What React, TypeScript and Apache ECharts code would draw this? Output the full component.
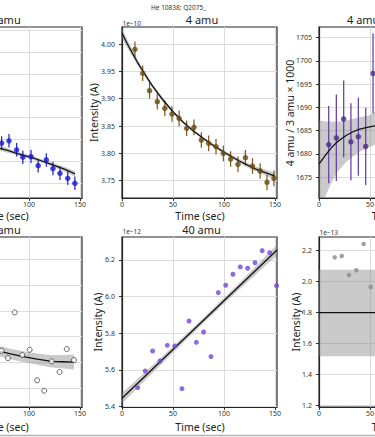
import React, { useEffect, useRef } from 'react';
import * as echarts from 'echarts';

const FONT = '"Noto Sans", "DejaVu Sans", sans-serif';
const XTICKS = [0, 50, 100, 150];
const XLABELS_LEFT = [100, 150];
const XLABELS_MID = [0, 50, 100, 150];
const XLABELS_RIGHT = [0, 50];

// Panel A (top-left, 3 amu) – only the visible part
const tA = [73.2, 80.4, 87.9, 94.0, 102.0, 109.0, 117.0, 123.5, 130.4, 138.0, 145.0];
const vA = [2.3966, 2.3987, 2.3904, 2.3837, 2.3842, 2.3759, 2.3812, 2.3732, 2.3689, 2.3643, 2.3597];
const eA = [0.0062, 0.0062, 0.0062, 0.0062, 0.0062, 0.0062, 0.0062, 0.0062, 0.0062, 0.0062, 0.0062];
const fitAx = [66.7, 71.6, 80, 86.3, 95, 103.9, 112, 120.6, 128, 135.3, 140, 145.1];
const fitAy = [2.3932, 2.3918, 2.3896, 2.3876, 2.3853, 2.383, 2.3804, 2.3775, 2.375, 2.3724, 2.3705, 2.3683];
const bandAh = [0.0025, 0.0022, 0.002, 0.0018, 0.0017, 0.0016, 0.0017, 0.0018, 0.002, 0.0022, 0.0024, 0.0026];
const yTicksA = [2.36, 2.38, 2.4, 2.42, 2.44, 2.46, 2.48, 2.5];

// Panel B (top-center, 4 amu), 1e-10 A
const tB = [12.7, 20.3, 27, 34.6, 42, 49, 56, 63.4, 70.6, 77.8, 85, 92.2, 99.4, 106.5, 113.7, 121, 128, 135.5, 142.2, 149];
const vB = [3.9903, 3.9464, 3.9146, 3.8945, 3.8823, 3.8719, 3.864, 3.8458, 3.8476, 3.8244, 3.8183, 3.8121, 3.8, 3.7896, 3.7799, 3.792, 3.7768, 3.7677, 3.747, 3.7543];
const eB = [0.0143, 0.0143, 0.0143, 0.0143, 0.0143, 0.0143, 0.0143, 0.0143, 0.0143, 0.0143, 0.0143, 0.0143, 0.0143, 0.0143, 0.0143, 0.0143, 0.0143, 0.0143, 0.0143, 0.0143];
const fitBx = [0, 5, 10, 15, 20, 25, 30, 40, 50, 60, 70, 80, 90, 100, 115, 130, 150];
const fitBy = [4.02, 4.001, 3.984, 3.967, 3.952, 3.937, 3.923, 3.898, 3.876, 3.857, 3.841, 3.827, 3.814, 3.802, 3.786, 3.772, 3.7585];
const bandBh = [0.009, 0.0078, 0.0066, 0.0055, 0.0046, 0.004, 0.0035, 0.003, 0.0027, 0.0025, 0.0025, 0.0025, 0.0027, 0.003, 0.0036, 0.0044, 0.006];
const yTicksB = [3.75, 3.8, 3.85, 3.9, 3.95, 4.0];

// Panel C (top-right, 4 amu / 3 amu x 1000)
const tC = [9.5, 17, 24.2, 31.3, 38.6, 45.8, 53];
const vC = [1682.0, 1683.45, 1687.5, 1682.6, 1683.7, 1681.6, 1697.3];
const eC = [8.3, 9.3, 8.3, 8.3, 8.4, 8.3, 8.6];
const fitCx = [0, 3, 6, 9.5, 13, 17, 21, 26.9, 33, 38.3, 44, 49.7, 54.6, 58];
const fitCy = [1677.8, 1678.7, 1679.6, 1680.6, 1681.5, 1682.4, 1683.1, 1684.0, 1684.7, 1685.2, 1685.55, 1685.8, 1686.0, 1686.1];
const bandCx = [0, 5.5, 9.5, 17, 26.9, 33, 38.3, 49.7, 54.6, 58];
const bandClo = [1666, 1670.5, 1672.5, 1675.8, 1678.3, 1679.4, 1680.3, 1681.5, 1681.9, 1682.2];
const bandChi = [1687.2, 1687.0, 1686.9, 1686.9, 1687.2, 1687.5, 1687.8, 1688.3, 1689.0, 1689.4];
const yTicksC = [1675, 1680, 1685, 1690, 1695, 1700, 1705];

// Panel D (bottom-left, open circles)
const tD = [73.2, 79.4, 86, 93.4, 100.7, 108, 115, 122.3, 130, 137, 144.1];
const vD = [1.29, 1.2335, 1.589, 1.257, 1.298, 1.06, 0.979, 1.208, 1.1245, 1.3035, 1.218];
const fitDx = [66.7, 71.6, 82, 93.1, 108, 122.3, 133, 144.1];
const fitDy = [1.2957, 1.2856, 1.2655, 1.2467, 1.2255, 1.2078, 1.2045, 1.2023];
const bandDh = [0.04, 0.04, 0.041, 0.042, 0.044, 0.047, 0.052, 0.058];
const yTicksD = [1.0, 1.2, 1.4, 1.6, 1.8, 2.0];

// Panel E (bottom-center, 40 amu), 1e-12 A
const tE = [15.4, 22.8, 30, 37.3, 44.4, 51.7, 58.8, 65.7, 72.9, 80, 87.3, 94.4, 101.7, 108.8, 116, 123.2, 130.4, 137.5, 144.8, 151.6];
const vE = [5.5036, 5.5945, 5.7036, 5.649, 5.7345, 5.731, 5.498, 5.867, 5.751, 5.807, 5.673, 6.022, 6.062, 6.122, 6.162, 6.155, 6.185, 6.251, 6.24, 6.06];
const fitEx = [0, 152];
const fitEy = [5.4455, 6.2545];
const bandEx = [0, 40, 76, 115, 152];
const bandElo = [5.417, 5.64, 5.836, 6.039, 6.226];
const bandEhi = [5.474, 5.676, 5.864, 6.075, 6.283];
const yTicksE = [5.4, 5.6, 5.8, 6.0, 6.2];

// Panel F (bottom-right), 1e-13 A
const tF = [15.4, 22.3, 29.4, 36.6, 43.8, 50.7];
const vF = [2.157, 2.166, 2.043, 2.074, 2.243, 1.966];
const meanFx = [0, 152];
const meanFy = [1.8, 1.8];
const bandFlo = [1.519, 1.519];
const bandFhi = [2.077, 2.077];
const yTicksF = [1.2, 1.4, 1.6, 1.8, 2.0, 2.2];

const BAND = 'rgba(128,128,128,0.42)';

function errSeries(i: number, ts: number[], vs: number[], es: number[], color: string, w: number) {
  return {
    type: 'custom',
    xAxisIndex: i,
    yAxisIndex: i,
    clip: true,
    silent: true,
    z: 3,
    encode: { x: 0, y: 1 },
    data: ts.map((t, k) => [t, vs[k], es[k]]),
    renderItem: (_p: any, api: any) => {
      const x = api.value(0), y = api.value(1), e = api.value(2);
      const a = api.coord([x, y - e]);
      const b = api.coord([x, y + e]);
      return {
        type: 'line',
        shape: { x1: a[0], y1: a[1], x2: b[0], y2: b[1] },
        style: { stroke: color, lineWidth: w },
      };
    },
  };
}

function bandSeries(i: number, xs: number[], lo: number[], hi: number[]) {
  return {
    type: 'custom',
    xAxisIndex: i,
    yAxisIndex: i,
    clip: true,
    silent: true,
    z: 1,
    data: [[xs[0], lo[0]]],
    renderItem: (_p: any, api: any) => {
      const pts: number[][] = [];
      for (let k = 0; k < xs.length; k++) pts.push(api.coord([xs[k], hi[k]]));
      for (let k = xs.length - 1; k >= 0; k--) pts.push(api.coord([xs[k], lo[k]]));
      return { type: 'polygon', shape: { points: pts }, style: { fill: BAND } };
    },
  };
}

function lineSeries(i: number, xs: number[], ys: number[]) {
  return {
    type: 'line',
    xAxisIndex: i,
    yAxisIndex: i,
    data: xs.map((x, k) => [x, ys[k]]),
    showSymbol: false,
    symbol: 'none',
    smooth: false,
    clip: true,
    silent: true,
    z: 4,
    lineStyle: { color: '#111', width: 1.3, join: 'round' },
  };
}

function scatterSeries(i: number, ts: number[], vs: number[], size: number, itemStyle: any) {
  return {
    type: 'scatter',
    xAxisIndex: i,
    yAxisIndex: i,
    data: ts.map((t, k) => [t, vs[k]]),
    symbolSize: size,
    clip: true,
    silent: true,
    z: 5,
    itemStyle,
  };
}

function txt(text: string, x: number, y: number, size: number, o: any = {}) {
  const align = o.align || 'center';
  return {
    type: 'text',
    x,
    y,
    rotation: o.rot || 0,
    silent: true,
    z: 100,
    style: {
      text,
      fontSize: size,
      fontFamily: FONT,
      fill: o.color || '#222',
      align,
      textAlign: align,
      verticalAlign: 'middle',
      textVerticalAlign: 'middle',
    },
  };
}

function buildOption() {
  const grids = [
    { left: -73, top: 27, width: 155, height: 171 },
    { left: 122, top: 27, width: 155, height: 171 },
    { left: 319, top: 27, width: 155, height: 171 },
    { left: -73, top: 237, width: 155, height: 170 },
    { left: 122, top: 237, width: 155, height: 170 },
    { left: 319, top: 237, width: 155, height: 170 },
  ].map((g) => ({
    ...g,
    show: true,
    backgroundColor: 'rgba(0,0,0,0)',
    borderColor: '#262626',
    borderWidth: 1.2,
    containLabel: false,
    outerBoundsMode: 'none',
  }));

  const xLabelSets = [XLABELS_LEFT, XLABELS_MID, XLABELS_RIGHT, XLABELS_LEFT, XLABELS_MID, XLABELS_RIGHT];

  const yDefs = [
    { min: 2.3462, max: 2.5032, ticks: yTicksA, fmt: (v: number) => v.toFixed(2), labels: false },
    { min: 3.7183, max: 4.0311, ticks: yTicksB, fmt: (v: number) => v.toFixed(2), labels: true },
    { min: 1670.5, max: 1707.3, ticks: yTicksC, fmt: (v: number) => String(Math.round(v)), labels: true },
    { min: 0.8521, max: 2.1767, ticks: yTicksD, fmt: (v: number) => v.toFixed(1), labels: false },
    { min: 5.398, max: 6.3254, ticks: yTicksE, fmt: (v: number) => v.toFixed(1), labels: true },
    { min: 1.1916, max: 2.2884, ticks: yTicksF, fmt: (v: number) => v.toFixed(1), labels: true },
  ];

  const axisCommon = {
    axisLine: { show: true, lineStyle: { color: '#262626', width: 1.2 } },
    splitLine: { show: true, lineStyle: { color: '#dcdcdc', width: 1 } },
  };

  const xAxis = grids.map((_g, i) => ({
    type: 'value',
    gridIndex: i,
    min: 0,
    max: 152,
    ...axisCommon,
    axisTick: { show: true, length: 3, customValues: XTICKS, lineStyle: { color: '#333' } },
    axisLabel: { customValues: xLabelSets[i], fontSize: 7, fontFamily: FONT, color: '#333', margin: 3 },
  }));

  const yAxis = yDefs.map((d, i) => ({
    type: 'value',
    gridIndex: i,
    min: d.min,
    max: d.max,
    ...axisCommon,
    axisTick: { show: true, length: 3, customValues: d.ticks, lineStyle: { color: '#333' } },
    axisLabel: {
      show: d.labels,
      customValues: d.ticks,
      fontSize: 7,
      fontFamily: FONT,
      color: '#333',
      margin: 7,
      formatter: d.fmt,
    },
  }));

  const series: any[] = [
    // A
    bandSeries(0, fitAx, fitAy.map((y, k) => y - bandAh[k]), fitAy.map((y, k) => y + bandAh[k])),
    lineSeries(0, fitAx, fitAy),
    errSeries(0, tA, vA, eA, '#2020cc', 1.2),
    scatterSeries(0, tA, vA, 5.5, { color: '#1c1ccf' }),
    // B
    bandSeries(1, fitBx, fitBy.map((y, k) => y - bandBh[k]), fitBy.map((y, k) => y + bandBh[k])),
    lineSeries(1, fitBx, fitBy),
    errSeries(1, tB, vB, eB, '#7d5518', 1.2),
    scatterSeries(1, tB, vB, 5.5, { color: '#6b4a0f' }),
    // C
    bandSeries(2, bandCx, bandClo, bandChi),
    lineSeries(2, fitCx, fitCy),
    errSeries(2, tC, vC, eC, '#6a44a6', 1.3),
    scatterSeries(2, tC, vC, 5.5, { color: '#4a2a88' }),
    // D
    bandSeries(3, fitDx, fitDy.map((y, k) => y - bandDh[k]), fitDy.map((y, k) => y + bandDh[k])),
    lineSeries(3, fitDx, fitDy),
    scatterSeries(3, tD, vD, 5, { color: '#ffffff', borderColor: '#444', borderWidth: 1 }),
    // E
    bandSeries(4, bandEx, bandElo, bandEhi),
    lineSeries(4, fitEx, fitEy),
    scatterSeries(4, tE, vE, 5, { color: '#7346dc' }),
    // F
    bandSeries(5, meanFx, bandFlo, bandFhi),
    lineSeries(5, meanFx, meanFy),
    scatterSeries(5, tF, vF, 4.5, { color: '#8a8a8a' }),
  ];

  const graphic: any[] = [
    txt('He 10838: Q2075_', 178.5, 7.5, 6.5, { color: '#333' }),
    txt('3 amu', 4.5, 19.5, 11),
    txt('4 amu', 202, 19.5, 11),
    txt('4 amu / 3 amu', 347, 19.5, 11, { align: 'left' }),
    txt('2 amu', 4.5, 229.5, 11),
    txt('40 amu', 201.5, 229.5, 11),
    txt('1e\u221210', 122.5, 23, 6.5, { align: 'left', color: '#333' }),
    txt('1e\u221212', 122.5, 231.5, 6.5, { align: 'left', color: '#333' }),
    txt('1e\u221213', 319.5, 232, 6.5, { align: 'left', color: '#333' }),
    txt('Time (sec)', 4, 216, 10.5),
    txt('Time (sec)', 200, 216, 10.5),
    txt('Time (sec)', 396.5, 216, 10.5),
    txt('Time (sec)', 4, 426.5, 10.5),
    txt('Time (sec)', 200, 426.5, 10.5),
    txt('Time (sec)', 396.5, 426.5, 10.5),
    txt('Intensity (A)', 93.5, 112.5, 10.5, { rot: Math.PI / 2 }),
    txt('4 amu / 3 amu \u00d7 1000', 290, 113, 10.5, { rot: Math.PI / 2 }),
    txt('Intensity (A)', 98, 322, 10.5, { rot: Math.PI / 2 }),
    txt('Intensity (A)', 296, 322, 10.5, { rot: Math.PI / 2 }),
    {
      type: 'line',
      silent: true,
      z: 100,
      shape: { x1: 0, y1: 435.5, x2: 375, y2: 435.5 },
      style: { stroke: '#b4b4b4', lineWidth: 1.5 },
    },
  ];

  return {
    animation: false,
    backgroundColor: '#ffffff',
    grid: grids,
    xAxis,
    yAxis,
    series,
    graphic,
  };
}

export default function App() {
  const ref = useRef<HTMLDivElement>(null);
  useEffect(() => {
    const chart = echarts.init(ref.current as HTMLDivElement, null, { renderer: 'svg' });
    chart.setOption(buildOption() as any);
    return () => chart.dispose();
  }, []);
  return (
    <div
      ref={ref}
      style={{ position: 'fixed', left: 0, top: 0, width: 375, height: 437, background: '#fff' }}
    />
  );
}
